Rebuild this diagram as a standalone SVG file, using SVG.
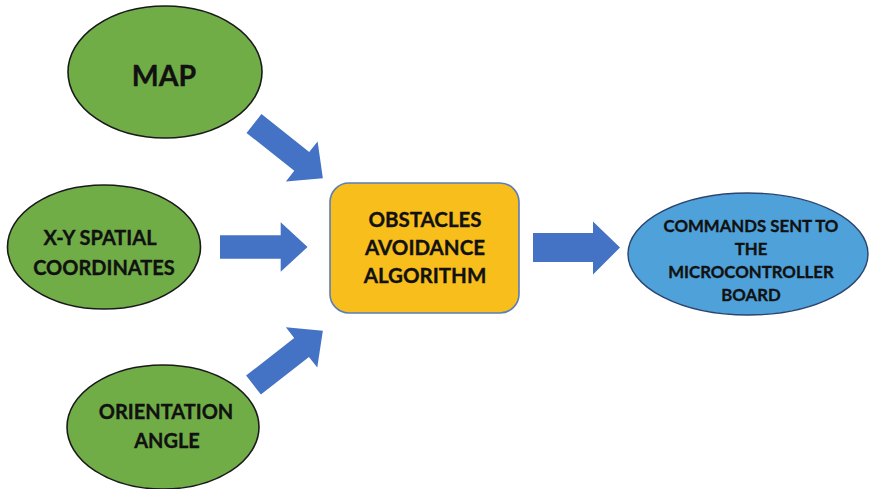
<svg xmlns="http://www.w3.org/2000/svg" width="869" height="489" viewBox="0 0 869 489">
  <defs>
    <style>
      .input ellipse { fill: #70AD47; stroke: #1a1a1a; stroke-width: 1.6; }
      .core rect { fill: #F8BE1C; stroke: #5B7DB8; stroke-width: 1.6; }
      .output ellipse { fill: #4FA1DA; stroke: #2B4470; stroke-width: 1.4; }
      .label { font-family: Lato, "Open Sans", "Liberation Sans", sans-serif; font-weight: bold; fill: #111111; stroke: #111111; stroke-width: 0.35; text-anchor: middle; }
      .arrow { fill: #4472C4; }
    </style>
    <!-- block arrow: shaft then head, pointing along +x from the origin -->
    <path id="blockArrow" d="M0,-12 L61,-12 L61,-25.5 L88,0 L61,25.5 L61,12 L0,12 Z"/>
  </defs>

  <rect width="869" height="489" fill="#ffffff"/>

  <g id="node-map" class="input">
    <ellipse cx="165" cy="72" rx="97" ry="66"/>
    <text class="label" x="164" y="86" font-size="28.5">MAP</text>
  </g>

  <g id="node-xy" class="input">
    <ellipse cx="104" cy="247" rx="96.5" ry="62"/>
    <text class="label" x="100" y="245" font-size="20">X-Y SPATIAL</text>
    <text class="label" x="104" y="275" font-size="20">COORDINATES</text>
  </g>

  <g id="node-orientation" class="input">
    <ellipse cx="163" cy="427" rx="96" ry="62"/>
    <text class="label" x="166" y="419" font-size="20">ORIENTATION</text>
    <text class="label" x="167" y="448" font-size="20">ANGLE</text>
  </g>

  <g id="node-algorithm" class="core">
    <rect x="330" y="183" width="189" height="130" rx="19" ry="19"/>
    <text class="label" x="425" y="227" font-size="20.5">OBSTACLES</text>
    <text class="label" x="425" y="255" font-size="20.5">AVOIDANCE</text>
    <text class="label" x="425" y="283" font-size="20.5">ALGORITHM</text>
  </g>

  <g id="node-commands" class="output">
    <ellipse cx="748" cy="254" rx="120" ry="61"/>
    <text class="label" x="751" y="232" font-size="16.8">COMMANDS SENT TO</text>
    <text class="label" x="751" y="255" font-size="16.8">THE</text>
    <text class="label" x="751" y="278" font-size="16.8">MICROCONTROLLER</text>
    <text class="label" x="751" y="301" font-size="16.8">BOARD</text>
  </g>

  <g id="connectors">
    <use href="#blockArrow" class="arrow" transform="translate(254,123.5) rotate(38.5)"/>
    <use href="#blockArrow" class="arrow" transform="translate(220,247) scale(0.995,0.97)"/>
    <use href="#blockArrow" class="arrow" transform="translate(253.5,385) rotate(-38)"/>
    <path class="arrow" d="M533,233 L593,233 L593,221.5 L620,247.5 L593,274.5 L593,262 L533,262 Z"/>
  </g>
</svg>
